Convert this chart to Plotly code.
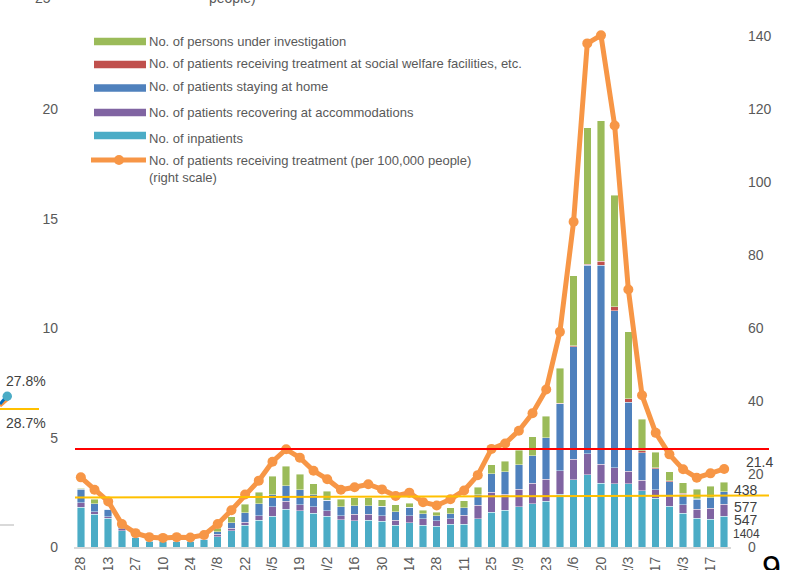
import plotly.graph_objects as go

# ---- data (thousand people, left axis) ----
week_dates = ["4/28","5/5","5/13","5/20","5/27","6/3","6/10","6/17","6/24","7/1",
              "7/8","7/15","7/22","7/29","8/5","8/12","8/19","8/26","9/2","9/9",
              "9/16","9/23","9/30","10/7","10/14","10/21","10/28","11/4","11/11","11/18",
              "11/25","12/2","12/9","12/16","12/23","12/30","1/6","1/13","1/20","1/27",
              "2/3","2/10","2/17","2/24","3/3","3/10","3/17","3/24"]
tick_labels = ["4/28","5/13","5/27","6/10","6/24","7/8","7/22","8/5","8/19","9/2",
               "9/16","9/30","10/14","10/28","11/11","11/25","12/9","12/23","1/6","1/20",
               "2/3","2/17","3/3","3/17"]

inpatients = [1.81,1.49,1.31,0.75,0.43,0.27,0.26,0.25,0.25,0.33,0.47,0.75,0.99,1.23,1.40,1.72,
              1.65,1.55,1.40,1.25,1.20,1.23,1.17,0.99,1.11,1.00,0.96,1.04,1.05,1.29,1.58,1.68,
              1.83,1.98,2.10,2.40,3.07,3.30,2.92,2.88,2.88,2.56,2.22,1.86,1.54,1.32,1.26,1.404]
accommodations = [0.22,0.12,0.07,0.09,0.01,0.01,0.01,0.01,0.01,0.03,0.11,0.10,0.14,0.20,0.44,0.38,
                  0.27,0.29,0.26,0.17,0.29,0.26,0.26,0.24,0.32,0.28,0.24,0.24,0.40,0.61,0.92,0.73,
                  0.81,0.93,0.99,1.09,0.94,0.97,0.86,0.74,0.58,0.50,0.40,0.43,0.39,0.40,0.51,0.547]
home = [0.62,0.36,0.34,0.09,0.03,0.02,0.02,0.02,0.02,0.03,0.12,0.26,0.44,0.55,0.54,0.70,
        0.70,0.54,0.47,0.41,0.40,0.40,0.44,0.38,0.38,0.24,0.22,0.23,0.35,0.49,0.84,1.03,
        1.11,1.26,1.90,3.06,5.15,8.60,9.09,7.18,3.16,1.25,0.95,0.70,0.47,0.46,0.47,0.577]
welfare = [0.02,0,0,0,0,0,0,0,0,0,0,0,0,0,0,0,
           0,0,0,0,0,0,0,0,0,0,0,0,0,0,0,0,
           0,0,0.01,0.02,0.03,0.06,0.20,0.19,0.15,0.09,0.05,0.03,0.06,0.03,0.02,0.0]
investigation = [0.02,0.21,0.03,0,0,0,0,0,0,0.01,0.15,0.28,0.38,0.53,0.85,0.89,
                 0.70,0.50,0.42,0.36,0.36,0.36,0.28,0.31,0.19,0.17,0.16,0.29,0.32,0.35,0.41,0.48,
                 0.67,0.87,0.98,1.61,3.21,6.23,6.42,5.08,3.07,1.43,0.72,0.43,0.48,0.43,0.52,0.438]
# patients receiving treatment per 100,000 people (right axis)
per100k = [19.1,15.7,12.5,6.3,3.8,2.7,2.5,2.7,2.6,3.3,6.3,10.1,14.4,18.2,23.4,26.8,
           24.5,20.9,18.6,15.7,16.4,17.2,15.8,14.0,14.9,12.3,11.4,13.1,15.5,19.7,26.9,28.4,
           31.9,36.7,43.2,59.0,89.2,138.1,140.3,115.6,70.6,41.6,31.3,25.4,21.3,19.0,20.2,21.4]

names = ["No. of persons under investigation",
         "No. of patients receiving treatment at social welfare facilities, etc.",
         "No. of patients staying at home",
         "No. of patients recovering at accommodations",
         "No. of inpatients"]
line_name = "No. of patients receiving treatment (per 100,000 people)"
C_GREEN, C_RED, C_BLUE, C_PURPLE, C_TEAL, C_ORANGE = "#9BBB59", "#C0504D", "#4F81BD", "#8064A2", "#4BACC6", "#F79646"
FONT = "Liberation Sans, Arial, sans-serif"
GRAY = "#595959"

W, H = 791, 570
ML, MR, MT, MB = 74, 60, 0, 23
PW, PH = W - ML - MR, H - MT - MB
def px(x):
    return (x - ML) / PW
def py(y):
    return (H - MB - y) / PH

fig = go.Figure()
bar_line = dict(width=0.6, color="rgba(255,255,255,0.7)")
for vals, col, nm in [(inpatients, C_TEAL, names[4]), (accommodations, C_PURPLE, names[3]),
                      (home, C_BLUE, names[2]), (welfare, C_RED, names[1]),
                      (investigation, C_GREEN, names[0])]:
    fig.add_trace(go.Bar(x=week_dates, y=vals, name=nm, marker=dict(color=col, line=bar_line)))

fig.add_trace(go.Scatter(x=week_dates, y=per100k, name=line_name, yaxis="y2",
                         mode="lines+markers", line=dict(color=C_ORANGE, width=5),
                         marker=dict(color=C_ORANGE, size=10), cliponaxis=False))

shapes = []
annotations = []
# reference lines
shapes.append(dict(type="line", xref="paper", yref="paper", x0=px(75), x1=px(769),
                   y0=py(449), y1=py(449), line=dict(color="#FF0000", width=2), layer="above"))
shapes.append(dict(type="line", xref="paper", yref="paper", x0=px(75), x1=px(769),
                   y0=py(497.5), y1=py(495.5), line=dict(color="#FFC000", width=2), layer="above"))

# custom legend
legend_rows = [(names[0], C_GREEN, 41.5, 41), (names[1], C_RED, 64.5, 63),
               (names[2], C_BLUE, 88, 87), (names[3], C_PURPLE, 112.5, 113),
               (names[4], C_TEAL, 135.5, 138)]
for nm, col, sy, ty in legend_rows:
    shapes.append(dict(type="rect", xref="paper", yref="paper", x0=px(94), x1=px(146),
                       y0=py(sy + 3.7), y1=py(sy - 3.7), fillcolor=col, line=dict(width=0)))
    annotations.append(dict(text=nm, xref="paper", yref="paper", x=px(147), y=py(ty),
                            xanchor="left", yanchor="middle", showarrow=False,
                            font=dict(family=FONT, size=13, color=GRAY)))
shapes.append(dict(type="line", xref="paper", yref="paper", x0=px(91), x1=px(146),
                   y0=py(160), y1=py(160), line=dict(color=C_ORANGE, width=5)))
shapes.append(dict(type="circle", xref="paper", yref="paper", x0=px(114), x1=px(124),
                   y0=py(165), y1=py(155), fillcolor=C_ORANGE, line=dict(width=0)))
annotations.append(dict(text=line_name, xref="paper", yref="paper", x=px(147), y=py(160.5),
                        xanchor="left", yanchor="middle", showarrow=False,
                        font=dict(family=FONT, size=13, color=GRAY)))
annotations.append(dict(text="(right scale)", xref="paper", yref="paper", x=px(147), y=py(177),
                        xanchor="left", yanchor="middle", showarrow=False,
                        font=dict(family=FONT, size=13, color=GRAY)))

# axis title fragment and top tick at the upper edge
annotations.append(dict(text="people)", xref="paper", yref="paper", x=px(207), y=py(-2),
                        xanchor="left", yanchor="middle", showarrow=False,
                        font=dict(family=FONT, size=14, color=GRAY)))
annotations.append(dict(text="25", xref="paper", yref="paper", x=px(53), y=py(-2),
                        xanchor="right", yanchor="middle", showarrow=False,
                        font=dict(family=FONT, size=14, color=GRAY)))

# data labels for the latest week
last_labels = [("21.4", 744, 462, 14), ("438", 732, 490, 14), ("577", 732, 506.5, 14),
               ("547", 732, 519.5, 14), ("1404", 731, 534, 12)]
for t, x, y, s in last_labels:
    annotations.append(dict(text=t, xref="paper", yref="paper", x=px(x), y=py(y),
                            xanchor="left", yanchor="middle", showarrow=False,
                            font=dict(family=FONT, size=s, color="#404040")))

# fragments of neighbouring content
annotations.append(dict(text="27.8%", xref="paper", yref="paper", x=px(4), y=py(381),
                        xanchor="left", yanchor="middle", showarrow=False,
                        font=dict(family=FONT, size=14, color="#404040")))
annotations.append(dict(text="28.7%", xref="paper", yref="paper", x=px(4), y=py(422.5),
                        xanchor="left", yanchor="middle", showarrow=False,
                        font=dict(family=FONT, size=14, color="#404040")))
shapes.append(dict(type="line", xref="paper", yref="paper", x0=px(0), x1=px(39),
                   y0=py(409), y1=py(409), line=dict(color="#FFC000", width=2)))
shapes.append(dict(type="line", xref="paper", yref="paper", x0=px(0), x1=px(8),
                   y0=py(406), y1=py(399), line=dict(color="#F79646", width=3)))
shapes.append(dict(type="line", xref="paper", yref="paper", x0=px(0), x1=px(7),
                   y0=py(404), y1=py(396), line=dict(color="#0070C0", width=3)))
shapes.append(dict(type="circle", xref="paper", yref="paper", x0=px(2.5), x1=px(12),
                   y0=py(401), y1=py(391.5), fillcolor=C_TEAL, line=dict(width=0)))
shapes.append(dict(type="line", xref="paper", yref="paper", x0=px(0), x1=px(14),
                   y0=py(525), y1=py(525), line=dict(color="#D9D9D9", width=2)))
annotations.append(dict(text="9", xref="paper", yref="paper", x=px(771), y=py(546),
                        xanchor="center", yanchor="top", showarrow=False,
                        font=dict(family=FONT, size=34, color="#000000")))

fig.update_layout(
    width=W, height=H, autosize=False, template="none",
    margin=dict(l=ML, r=MR, t=MT, b=MB, pad=0),
    paper_bgcolor="white", plot_bgcolor="white",
    barmode="stack", bargap=0.45, showlegend=False,
    font=dict(family=FONT, size=14, color=GRAY),
    xaxis=dict(type="category", tickmode="array", tickvals=week_dates[::2], ticktext=tick_labels,
               tickangle=-90, showline=True, linecolor="#D9D9D9", linewidth=2, showgrid=False,
               zeroline=False, ticks="", automargin=False, range=[-0.5, len(week_dates) - 0.5],
               ticklabelstandoff=2, tickfont=dict(family=FONT, size=14, color=GRAY)),
    yaxis=dict(range=[0, 25], dtick=5, tick0=0, showgrid=False, zeroline=False, showline=False,
               ticks="", automargin=False, ticklabelstandoff=15,
               tickfont=dict(family=FONT, size=14, color=GRAY)),
    yaxis2=dict(range=[0, 150], dtick=20, tick0=0, overlaying="y", side="right", showgrid=False,
                zeroline=False, showline=False, ticks="", automargin=False, ticklabelstandoff=16,
                tickfont=dict(family=FONT, size=14, color=GRAY)),
    shapes=shapes, annotations=annotations,
)

fig.write_html("out.html", config={"displayModeBar": False},
               post_script="document.body.style.margin='0';document.body.style.overflow='hidden';")
